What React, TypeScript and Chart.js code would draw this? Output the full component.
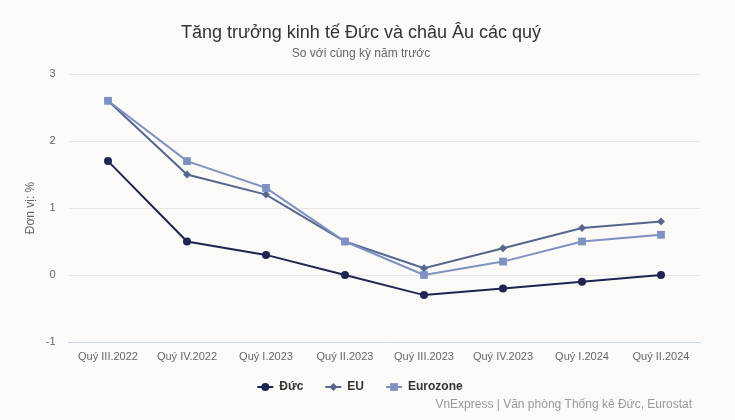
import React, { useEffect, useRef } from "react";
import { Chart, registerables } from "chart.js";

Chart.register(...registerables);

const categories = [
  "Quý III.2022",
  "Quý IV.2022",
  "Quý I.2023",
  "Quý II.2023",
  "Quý III.2023",
  "Quý IV.2023",
  "Quý I.2024",
  "Quý II.2024",
];
const ducValues = [1.7, 0.5, 0.3, 0.0, -0.3, -0.2, -0.1, 0.0];
const euValues = [2.6, 1.5, 1.2, 0.5, 0.1, 0.4, 0.7, 0.8];
const eurozoneValues = [2.6, 1.7, 1.3, 0.5, 0.0, 0.2, 0.5, 0.6];
const seriesNames = ["Đức", "EU", "Eurozone"];
const yMin = -1;
const yMax = 3;
const yStep = 1;

const titleText = "Tăng trưởng kinh tế Đức và châu Âu các quý";
const subtitleText = "So với cùng kỳ năm trước";
const yAxisTitle = "Đơn vị: %";
const sourceText = "VnExpress | Văn phòng Thống kê Đức, Eurostat";

const FONT = "'Liberation Sans', Arial, Helvetica, sans-serif";
const BG = "#fbfaf7";
const colors = ["#1c2553", "#56678f", "#7d91c2"];
const styles = ["circle", "rectRot", "rect"];
const radii = [4, 4, 5.5];

function drawMarker(ctx: CanvasRenderingContext2D, style: string, x: number, y: number, r: number, color: string) {
  ctx.save();
  ctx.fillStyle = color;
  ctx.beginPath();
  if (style === "circle") {
    ctx.arc(x, y, r, 0, Math.PI * 2);
  } else if (style === "rectRot") {
    ctx.moveTo(x, y - r);
    ctx.lineTo(x + r, y);
    ctx.lineTo(x, y + r);
    ctx.lineTo(x - r, y);
    ctx.closePath();
  } else {
    const s = r * Math.SQRT1_2;
    ctx.rect(x - s, y - s, 2 * s, 2 * s);
  }
  ctx.fill();
  ctx.restore();
}

const decorPlugin = {
  id: "decor",
  beforeDraw(chart: any) {
    const ctx = chart.ctx as CanvasRenderingContext2D;
    ctx.save();
    ctx.fillStyle = BG;
    ctx.fillRect(0, 0, chart.width, chart.height);
    ctx.restore();
  },
  afterDraw(chart: any) {
    const ctx = chart.ctx as CanvasRenderingContext2D;
    ctx.save();
    ctx.textBaseline = "middle";
    // title
    ctx.textAlign = "center";
    ctx.fillStyle = "#333333";
    ctx.font = `18px ${FONT}`;
    ctx.fillText(titleText, 361, 33);
    ctx.fillStyle = "#666666";
    ctx.font = `12px ${FONT}`;
    ctx.fillText(subtitleText, 361, 54);
    // y axis title
    ctx.save();
    ctx.translate(31, 208);
    ctx.rotate(-Math.PI / 2);
    ctx.fillStyle = "#666666";
    ctx.font = `12px ${FONT}`;
    ctx.fillText(yAxisTitle, 0, 0);
    ctx.restore();
    // source
    ctx.textAlign = "right";
    ctx.fillStyle = "#999999";
    ctx.font = `12px ${FONT}`;
    ctx.fillText(sourceText, 692, 405);
    // legend
    ctx.font = `bold 12px ${FONT}`;
    const symW = 16;
    const gap = 6;
    const itemGap = 22;
    const widths = chart.data.datasets.map((d: any) => symW + gap + ctx.measureText(d.label).width);
    const total = widths.reduce((a: number, b: number) => a + b, 0) + itemGap * (widths.length - 1);
    let x = 360 - total / 2;
    const y = 387;
    chart.data.datasets.forEach((d: any, i: number) => {
      ctx.strokeStyle = d.borderColor;
      ctx.lineWidth = 2;
      ctx.beginPath();
      ctx.moveTo(x, y);
      ctx.lineTo(x + symW, y);
      ctx.stroke();
      drawMarker(ctx, d.pointStyle, x + symW / 2, y, d.pointRadius, d.backgroundColor);
      ctx.textAlign = "left";
      ctx.fillStyle = "#333333";
      ctx.fillText(d.label, x + symW + gap, y);
      x += widths[i] + itemGap;
    });
    ctx.restore();
  },
};

export default function App() {
  const canvasRef = useRef<HTMLCanvasElement | null>(null);

  useEffect(() => {
    document.body.style.margin = "0";
    document.body.style.background = BG;
    const canvas = canvasRef.current;
    if (!canvas) return;
    const seriesValues = [ducValues, euValues, eurozoneValues];
    const chart = new Chart(canvas, {
      type: "line",
      data: {
        labels: categories,
        datasets: seriesValues.map((vals, i) => ({
          label: seriesNames[i],
          data: vals,
          borderColor: colors[i],
          backgroundColor: colors[i],
          pointBackgroundColor: colors[i],
          pointBorderWidth: 0,
          pointStyle: styles[i] as any,
          pointRadius: radii[i],
          borderWidth: 2,
          tension: 0,
          fill: false,
          order: 2 - i,
        })),
      },
      options: {
        animation: false,
        responsive: false,
        devicePixelRatio: 1,
        layout: { padding: { left: 8, right: 34.5, top: 74, bottom: 53 } },
        plugins: {
          legend: { display: false },
          title: { display: false },
          tooltip: { enabled: false },
        },
        scales: {
          x: {
            type: "category",
            offset: true,
            grid: { display: false, drawTicks: false },
            border: { display: true, color: "#ccd6eb", width: 1 },
            ticks: {
              color: "#666666",
              font: { family: FONT, size: 11 },
              padding: 8,
              maxRotation: 0,
              autoSkip: false,
            },
            afterFit: (s: any) => {
              s.height = 25;
            },
          },
          y: {
            min: yMin,
            max: yMax,
            ticks: {
              stepSize: yStep,
              color: "#666666",
              font: { family: FONT, size: 11 },
              padding: 13,
            },
            grid: {
              drawTicks: false,
              color: (c: any) => (c.tick && c.tick.value === yMin ? "rgba(0,0,0,0)" : "#e6e6e6"),
              lineWidth: 1,
            },
            border: { display: false },
            afterFit: (s: any) => {
              s.width = 60.5;
            },
          },
        },
      },
      plugins: [decorPlugin],
    });
    return () => chart.destroy();
  }, []);

  return (
    <div style={{ width: 735, height: 420, background: BG }}>
      <canvas ref={canvasRef} width={735} height={420} style={{ display: "block" }} />
    </div>
  );
}
